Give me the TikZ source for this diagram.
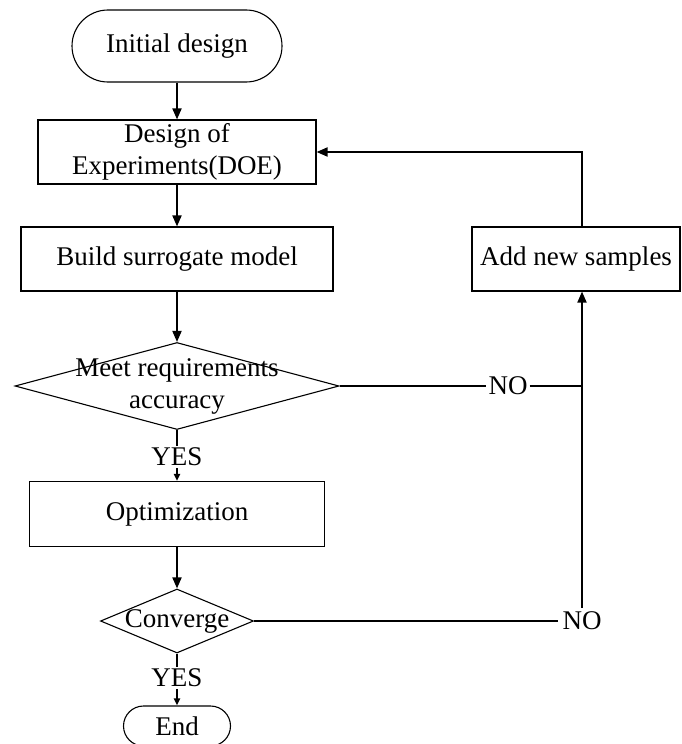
\documentclass[tikz,border=0pt]{standalone}
\usepackage{fontspec}
\setmainfont{Liberation Serif}
\usetikzlibrary{shapes.geometric,shapes.misc,arrows.meta}

\begin{document}
\begin{tikzpicture}[x=1pt,y=-1pt,
    font=\fontsize{27}{32}\selectfont,
    box/.style={draw,line width=1.1pt,minimum height=64pt,inner sep=0pt},
    term/.style={draw,line width=1.1pt,rounded rectangle,inner sep=0pt},
    decision/.style={draw,line width=1.1pt,diamond,inner sep=0pt},
    tag/.style={inner sep=2pt},
    flow/.style={line width=1.8pt,-{Triangle[length=11pt,width=9pt]}},
    flowsmall/.style={line width=1.8pt,-{Triangle[length=7pt,width=6pt]}},
    link/.style={line width=1.8pt}]
  \useasboundingbox (0,0) rectangle (681,744);

  % main column
  \node[term,minimum width=210pt,minimum height=72pt] (init) at (177,46) {Initial design};
  \node[box,minimum width=278pt,align=center] (doe) at (177,152) {Design of\\Experiments(DOE)};
  \node[box,minimum width=312pt] (build) at (177,259) {Build surrogate model};
  \node[decision,minimum width=324pt,minimum height=87pt] (meet) at (177,386) {};
  \node[align=center] (meettxt) at (meet.center) {Meet requirements\\accuracy};
  \node[tag] (yes1) at (177,457) {YES};
  \node[box,minimum width=295pt,minimum height=65pt] (opt) at (177,514) {Optimization};
  \node[decision,minimum width=153pt,minimum height=64pt] (conv) at (177,621) {};
  \node (convtxt) at (conv.center) {Converge};
  \node[tag] (yes2) at (177,678) {YES};
  \node[term,minimum width=107pt,minimum height=40pt] (end) at (177,726) {End};

  % feedback branch
  \node[box,minimum width=208pt] (add) at (576,259) {Add new samples};
  \node[tag] (no1) at (508,386) {NO};
  \node[tag,inner sep=4pt] (no2) at (582,621) {NO};
  \coordinate (join) at (no2 |- meet);

  \draw[flow] (init.south) -- (doe.north);
  \draw[flow] (doe.south) -- (build.north);
  \draw[flow] (build.south) -- (meet.north);
  \draw[link] (meet.south) -- (yes1.north);
  \draw[flowsmall] (yes1.south) -- (opt.north);
  \draw[flow] (opt.south) -- (conv.north);
  \draw[link] (conv.south) -- (yes2.north);
  \draw[flowsmall] (yes2.south) -- (end.north);

  \draw[link] (meet.east) -- (no1);
  \draw[link] (no1) -- (join);
  \draw[link] (conv.east) -- (no2);
  \draw[flow] (no2) -- (no2 |- add.south);
  \draw[flow] (no2 |- add.north) |- (doe.east);
\end{tikzpicture}
\end{document}
